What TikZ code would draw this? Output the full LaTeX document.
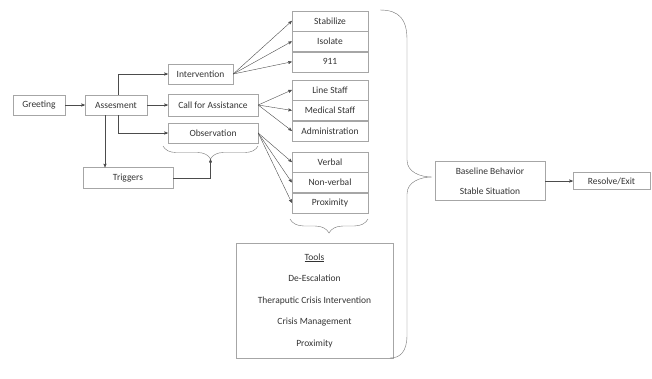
\documentclass[tikz,border=0pt]{standalone}
\usepackage{fontspec}
\setmainfont{Carlito}
\usepackage{tikz}
\usetikzlibrary{arrows}
\usetikzlibrary{positioning}
\usetikzlibrary{decorations.pathreplacing}
\tikzset{
    tnode/.style = {align=center, inner sep=0pt, text centered, text=black!80, font=\fontsize{9.5}{11.5}\selectfont},
    flow_box/.style = {tnode, rectangle, draw=black!35, thin, minimum height=20pt},
    col_box/.style = {flow_box, minimum width=76pt},
    tools_box/.style = {flow_box, minimum width=157pt, minimum height=115pt},
    link/.style = {->, draw=black!70, thin},
    brace_line/.style = {draw=black!55, thin},
    brace_deco/.style = {brace_line, decorate, decoration={brace, mirror, amplitude=13pt}}
}

\begin{document}
\begin{tikzpicture}
            [-,>=stealth', x=1pt, y=-1pt]

            \useasboundingbox (0,0) rectangle (652,378);

            % left part
            \node [flow_box, minimum width=52pt] (greet) at (39,105) {Greeting};
            \node [flow_box, minimum width=62pt] (assess) at (116,105) {Assesment};
            \node [flow_box, minimum width=65pt] (interv) at (200.5,74) {Intervention};
            \node [flow_box, minimum width=90pt, minimum height=22pt] (callas) at (213,105) {Call for Assistance};
            \node [flow_box, minimum width=90pt] (observ) at (213,133) {Observation};
            \node [flow_box, minimum width=90pt, minimum height=21pt] (trig) at (128,178) {Triggers};

            % columns
            \node [col_box] (stab) at (330,21) {Stabilize};
            \node [col_box, below=0pt of stab] (isol) {Isolate};
            \node [col_box, below=0pt of isol] (nine) {911};

            \node [col_box] (line) at (330,90) {Line Staff};
            \node [col_box, below=0pt of line] (medic) {Medical Staff};
            \node [col_box, below=0pt of medic] (admin) {Administration};

            \node [col_box] (verbal) at (330,162) {Verbal};
            \node [col_box, below=0pt of verbal] (nonverb) {Non-verbal};
            \node [col_box, below=0pt of nonverb] (prox) {Proximity};

            \node [tools_box] (tools) at (314.5,300.5) {\underline{Tools}\\[10pt]
                De-Escalation\\[10pt]
                Theraputic Crisis Intervention\\[10pt]
                Crisis Management\\[10pt]
                Proximity};

            % right part
            \node [flow_box, minimum width=110pt, minimum height=39pt] (base) at (490,181) {Baseline Behavior\\[8pt]Stable Situation};
            \node [flow_box, minimum width=77pt, minimum height=17pt] (resolve) at (611.5,181) {Resolve/Exit};

            % connectors
            \draw [link] (greet) -- (assess);
            \draw [link] (assess) -- (callas);
            \draw [link] ([xshift=2pt]assess.north) |- (interv.west);
            \draw [link] ([xshift=2pt]assess.south) |- (observ.west);
            \coordinate (a_left) at ([xshift=-11pt]assess.south);
            \draw [link] (a_left) -- (a_left |- trig.north);

            \foreach \t in {stab, isol, nine}
                \draw [link] (interv.east) -- (\t.west);
            \foreach \t in {line, medic, admin}
                \draw [link] (callas.east) -- (\t.west);
            \foreach \t in {verbal, nonverb, prox}
                \draw [link] (observ.east) -- (\t.west);

            % braces
            \draw [brace_deco] (163,146) -- (258,146);
            \coordinate (obs_tip) at (210.5,159);
            \draw [link] (trig.east) -| (obs_tip);
            \draw [brace_deco, decoration={amplitude=14pt}] (290,219) -- (368,219);
            \draw [brace_line] (380,10) .. controls (400,10) and (407,20) .. (407,40)
                -- (407,160) .. controls (407,172) and (420,177) .. (432,177)
                .. controls (420,177) and (407,182) .. (407,194)
                -- (407,335) .. controls (407,352) and (400,358) .. (390,358);

            \draw [link] (base) -- (resolve);
\end{tikzpicture}
\end{document}
